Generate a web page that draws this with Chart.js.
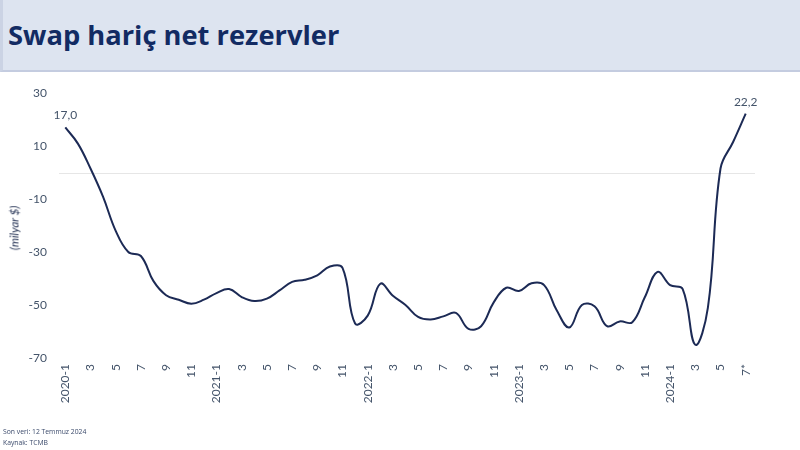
<!DOCTYPE html>
<html>
<head>
<meta charset="utf-8">
<script src="https://cdn.jsdelivr.net/npm/chart.js@4.4.1/dist/chart.umd.min.js"></script>
<style>
  html, body { margin:0; padding:0; background:#ffffff; }
  body { width:800px; height:450px; position:relative; overflow:hidden; font-family: Lato, "Open Sans", sans-serif; }
  #titlebar { position:absolute; left:0; top:0; width:797px; height:70px; background:#dde4f0; border-bottom:2px solid #c4cce0; border-left:3px solid #cbd3e4; }
  #title { position:absolute; left:8px; top:19px; font-family: "Open Sans", sans-serif; font-weight:bold; font-size:27.3px; line-height:32px; color:#122b63; letter-spacing:0px; white-space:nowrap; }
  #wrap { position:absolute; left:0; top:0; width:800px; height:450px; }
  #ylabel { position:absolute; left:14px; top:228px; transform: translate(-50%,-50%) rotate(-90deg); font-family: Lato, sans-serif; font-style:italic; font-size:11.5px; color:#1f2d50; white-space:nowrap; }
  .foot { position:absolute; left:3px; font-family: "Open Sans", sans-serif; font-size:6.8px; color:#3b4a6b; white-space:nowrap; }
</style>
</head>
<body>
<div id="titlebar"></div>
<div id="title">Swap hariç net rezervler</div>
<div id="wrap"><canvas id="c" width="800" height="450"></canvas></div>
<div id="ylabel">(milyar $)</div>
<div class="foot" style="top:427px;">Son veri: 12 Temmuz 2024</div>
<div class="foot" style="top:438px;">Kaynak: TCMB</div>
<script>
// ---- data ----
const years = [2020, 2021, 2022, 2023, 2024];
const lastMonthLabel = "7*";
const values = [
  17.0, 10.9, 1.5, -9.2, -22, -30, -31.5, -41, -46.3, -48, -49.5, -48,
  -45.5, -44, -47, -48.5, -47.6, -44.5, -41.3, -40.5, -38.8, -35.5, -36, -57,
  -54, -42, -46.5, -50, -54.5, -55.5, -54.3, -53, -59, -58, -49, -43.5,
  -44.7, -41.8, -42.5, -52, -58.5, -50, -50.5, -58, -56.2, -56.5, -47, -37.5,
  -42.5, -44, -65, -51, 1.5, 11.5, 22.2
];
const yTicks = [30, 10, -10, -30, -50, -70];
const labeledPoints = [0, values.length - 1];

const categories = [];
for (const y of years) {
  for (let m = 1; m <= 12; m++) {
    if (categories.length >= values.length) break;
    categories.push(m === 1 ? y + "-1" : String(m));
  }
}
categories[categories.length - 1] = lastMonthLabel;

const tickColor = "#44546a";

const extras = {
  id: "extras",
  beforeDatasetsDraw(chart) {
    const { ctx, chartArea, scales } = chart;
    const y0 = scales.y.getPixelForValue(0);
    ctx.save();
    ctx.strokeStyle = "#e6e6e6";
    ctx.lineWidth = 1;
    ctx.beginPath();
    ctx.moveTo(chartArea.left, Math.round(y0) + 0.5);
    ctx.lineTo(chartArea.right + 3, Math.round(y0) + 0.5);
    ctx.stroke();
    ctx.restore();
  },
  afterDatasetsDraw(chart) {
    const { ctx } = chart;
    const meta = chart.getDatasetMeta(0);
    ctx.save();
    ctx.font = "12px Lato, sans-serif";
    ctx.fillStyle = tickColor;
    ctx.textAlign = "center";
    ctx.textBaseline = "middle";
    for (const i of labeledPoints) {
      const p = meta.data[i];
      ctx.fillText(values[i].toFixed(1).replace(".", ","), p.x, p.y - 12);
    }
    ctx.restore();
  }
};

new Chart(document.getElementById("c"), {
  type: "line",
  data: {
    labels: categories,
    datasets: [{
      data: values,
      borderColor: "#1c2a55",
      borderWidth: 2,
      pointRadius: 0,
      tension: 0.4,
      fill: false
    }]
  },
  options: {
    responsive: false,
    animation: false,
    devicePixelRatio: 1,
    layout: { padding: { left: 0, right: 48, top: 93, bottom: 30 } },
    plugins: { legend: { display: false }, tooltip: { enabled: false } },
    scales: {
      x: {
        offset: true,
        grid: { display: false, drawTicks: false },
        border: { display: false },
        afterFit(s) { s.height = 62; },
        ticks: {
          autoSkip: false,
          maxRotation: 90,
          minRotation: 90,
          padding: 6,
          color: tickColor,
          font: { family: "Lato, sans-serif", size: 12 },
          callback(v, i) { return i % 2 === 0 ? categories[i] : ""; }
        }
      },
      y: {
        min: -70,
        max: 30,
        grid: { display: false, drawTicks: false },
        border: { display: false },
        afterFit(s) { s.width = 59; },
        afterBuildTicks(s) { s.ticks = yTicks.map(v => ({ value: v })); },
        ticks: {
          padding: 12,
          color: tickColor,
          font: { family: "Lato, sans-serif", size: 12 },
          callback(v) { return String(v); }
        }
      }
    }
  },
  plugins: [extras]
});
</script>
</body>
</html>
